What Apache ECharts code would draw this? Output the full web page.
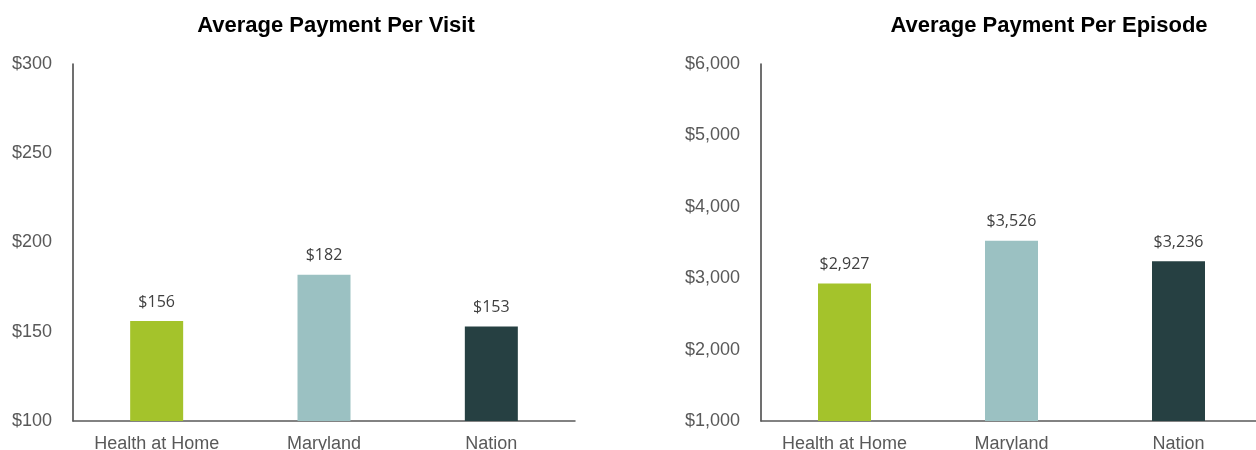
<!DOCTYPE html>
<html>
<head>
<meta charset="utf-8">
<script src="https://cdn.jsdelivr.net/npm/echarts@6/dist/echarts.min.js"></script>
<style>
  html, body { margin: 0; padding: 0; background: #fff; }
  #chart { width: 1256px; height: 450px; }
</style>
</head>
<body>
<div id="chart"></div>
<script>
const categories = ['Health at Home', 'Maryland', 'Nation'];
const barColors = ['#a4c32b', '#9bc1c2', '#264042'];
const visitValues = [156, 182, 153];
const episodeValues = [2927, 3526, 3236];
const visitTicks = { min: 100, max: 300, interval: 50 };
const episodeTicks = { min: 1000, max: 6000, interval: 1000 };

const money = v => '$' + Number(v).toLocaleString('en-US');

function xAxisFor(grid) {
    return {
        type: 'category',
        gridIndex: grid,
        data: categories,
        axisTick: { show: false },
        axisLine: { show: true, lineStyle: { color: '#595959', width: 1.5 } },
        axisLabel: { color: '#595959', fontSize: 18, margin: 14, fontFamily: 'Liberation Sans' }
    };
}

function yAxisFor(grid, ticks) {
    return {
        type: 'value',
        gridIndex: grid,
        min: ticks.min,
        max: ticks.max,
        interval: ticks.interval,
        axisTick: { show: false },
        axisLine: { show: true, lineStyle: { color: '#404040', width: 1.5 } },
        splitLine: { show: false },
        axisLabel: { color: '#595959', fontSize: 18, margin: 21, fontFamily: 'Liberation Sans', formatter: money }
    };
}

function barSeries(idx, values) {
    return {
        type: 'bar',
        xAxisIndex: idx,
        yAxisIndex: idx,
        barWidth: 53,
        data: values.map((v, i) => ({ value: v, itemStyle: { color: barColors[i] } })),
        label: {
            show: true,
            position: 'top',
            distance: 11,
            color: '#404040',
            fontSize: 16,
            fontFamily: 'Open Sans',
            formatter: p => money(p.value)
        }
    };
}

const mycharts = echarts.init(document.getElementById('chart'));
const option = {
    animation: false,
    title: [
        {
            text: 'Average Payment Per Visit',
            left: 331, top: 10, textAlign: 'center',
            textStyle: { fontSize: 22, fontWeight: 'bold', color: '#000', fontFamily: 'Liberation Sans' }
        },
        {
            text: 'Average Payment Per Episode',
            left: 1044, top: 10, textAlign: 'center',
            textStyle: { fontSize: 22, fontWeight: 'bold', color: '#000', fontFamily: 'Liberation Sans' }
        }
    ],
    grid: [
        { left: 73, top: 64, width: 502, height: 357, outerBoundsMode: 'none', containLabel: false },
        { left: 761, top: 64, width: 501, height: 357, outerBoundsMode: 'none', containLabel: false }
    ],
    xAxis: [xAxisFor(0), xAxisFor(1)],
    yAxis: [yAxisFor(0, visitTicks), yAxisFor(1, episodeTicks)],
    series: [barSeries(0, visitValues), barSeries(1, episodeValues)]
};
mycharts.setOption(option);
window.addEventListener('resize', function () {
    mycharts.resize();
});
</script>
</body>
</html>
